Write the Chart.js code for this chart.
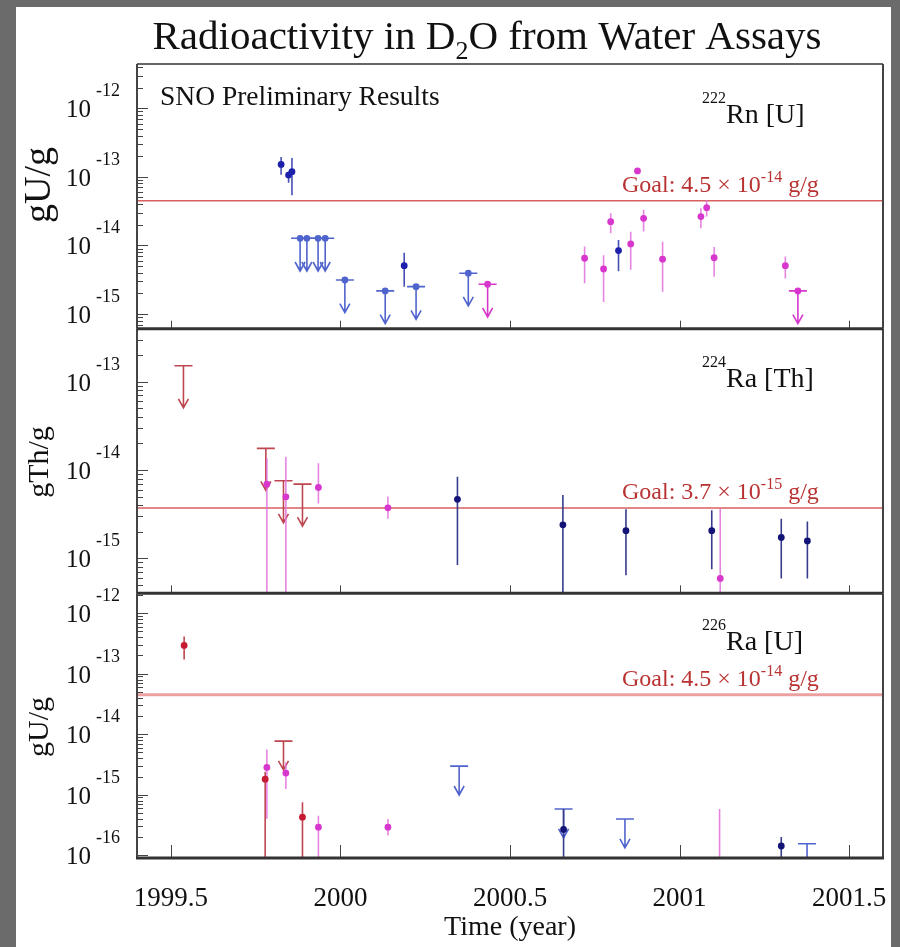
<!DOCTYPE html>
<html>
<head>
<meta charset="utf-8">
<title>Radioactivity in D2O from Water Assays</title>
<script src="https://cdn.jsdelivr.net/npm/chart.js@4/dist/chart.umd.min.js"></script>
<style>
  html, body { margin: 0; padding: 0; background: #6b6b6b; }
  canvas { display: block; }
</style>
</head>
<body>
<canvas id="assays" width="900" height="947"></canvas>
<script>
// assay results: [year, value, low, high] in g/g, limits: [year, upper limit]
const rnBluePoints = [
  [1999.825, 1.52e-13, 1.07e-13, 1.95e-13],
  [1999.847, 1.06e-13, 8.2e-14, 1.2e-13],
  [1999.857, 1.19e-13, 5.4e-14, 1.88e-13],
  [2000.188, 5.07e-15, 2.5e-15, 7.8e-15],
  [2000.820, 8.4e-15, 4.2e-15, 1.2e-14]
];
const rnBlueLimits = [
  [1999.881, 1.27e-14], [1999.901, 1.27e-14], [1999.934, 1.27e-14], [1999.955, 1.27e-14],
  [2000.013, 3.13e-15], [2000.132, 2.17e-15], [2000.223, 2.5e-15], [2000.377, 3.93e-15]
];
const rnPinkPoints = [
  [2000.720, 6.5e-15, 2.8e-15, 9.6e-15],
  [2000.776, 4.53e-15, 1.5e-15, 7.2e-15],
  [2000.797, 2.22e-14, 1.5e-14, 2.95e-14],
  [2000.856, 1.05e-14, 4.4e-15, 1.58e-14],
  [2000.876, 1.22e-13, 1.1e-13, 1.35e-13],
  [2000.894, 2.48e-14, 1.6e-14, 3.3e-14],
  [2000.950, 6.3e-15, 2.1e-15, 1.13e-14],
  [2001.063, 2.63e-14, 1.78e-14, 3.47e-14],
  [2001.080, 3.55e-14, 2.63e-14, 4.6e-14],
  [2001.102, 6.6e-15, 3.5e-15, 9.5e-15],
  [2001.312, 5.07e-15, 3.3e-15, 6.9e-15]
];
const rnPinkLimits = [[2000.434, 2.71e-15], [2001.349, 2.17e-15]];

const ra224RedLimits = [[1999.537, 1.52e-13], [1999.780, 1.76e-14], [1999.832, 7.55e-15], [1999.888, 6.92e-15]];
const ra224PinkPoints = [
  [1999.783, 6.9e-15, 1e-16, 1.36e-14],
  [1999.839, 4.97e-15, 1e-16, 1.41e-14],
  [1999.935, 6.35e-15, 4.18e-15, 1.19e-14],
  [2000.140, 3.73e-15, 2.8e-15, 5.0e-15],
  [2001.120, 5.9e-16, 1e-16, 3.67e-15]
];
const ra224BluePoints = [
  [2000.345, 4.65e-15, 8.4e-16, 8.4e-15],
  [2000.656, 2.39e-15, 1e-16, 5.2e-15],
  [2000.842, 2.05e-15, 6.4e-16, 3.6e-15],
  [2001.095, 2.05e-15, 7.5e-16, 3.5e-15],
  [2001.300, 1.72e-15, 5.9e-16, 2.8e-15],
  [2001.377, 1.57e-15, 5.9e-16, 2.6e-15]
];

const ra226RedPoints = [
  [1999.539, 2.93e-13, 1.71e-13, 4.12e-13],
  [1999.778, 1.81e-15, 5e-17, 2.4e-15],
  [1999.888, 4.25e-16, 5e-17, 7.5e-16]
];
const ra226RedLimits = [[1999.832, 7.7e-15]];
const ra226PinkPoints = [
  [1999.783, 2.83e-15, 4.0e-16, 5.6e-15],
  [1999.839, 2.28e-15, 1.24e-15, 3.41e-15],
  [1999.935, 2.91e-16, 5e-17, 4.5e-16],
  [2000.140, 2.91e-16, 2.12e-16, 3.98e-16],
  [2001.118, 6e-17, 5e-17, 5.8e-16]
];
const ra226BluePoints = [
  [2000.658, 2.66e-16, 5e-17, 5.82e-16],
  [2001.300, 1.42e-16, 5e-17, 2.0e-16]
];
const ra226BlueLimits = [[2000.350, 2.97e-15], [2000.658, 5.82e-16], [2000.839, 3.98e-16], [2001.376, 1.55e-16]];

const goalRn = 4.5e-14;
const goalRa224 = 3.7e-15;
const goalRa226 = 4.5e-14;
const yearTicks = [1999.5, 2000, 2000.5, 2001, 2001.5];

const SERIF = '"Liberation Serif", "Times New Roman", serif';
const BLUE = 'rgb(28,32,170)', BLUE_BAR = 'rgb(70,80,180)', BLUE_ARROW = 'rgb(80,100,205)';
const NAVY = 'rgb(20,20,120)', NAVY_BAR = 'rgb(55,60,140)';
const PINK = 'rgb(215,55,205)', PINK_BAR = 'rgba(225,110,220,0.85)';
const RED = 'rgb(200,25,50)', RED_BAR = 'rgb(190,70,80)';

function points(rows, axis, color, bar) {
  return {
    kind: 'points', barColor: bar, yAxisID: axis,
    data: rows.map(r => ({ x: r[0], y: r[1], lo: r[2], hi: r[3] })),
    backgroundColor: color, borderColor: color, borderWidth: 0,
    pointRadius: 3.4, pointHoverRadius: 3.4
  };
}

function limits(rows, axis, color, withDot) {
  return {
    kind: 'limits', barColor: color, yAxisID: axis,
    data: rows.map(r => ({ x: r[0], y: r[1] })),
    backgroundColor: color, borderColor: color, borderWidth: 0,
    pointRadius: withDot ? 3.4 : 0, pointHoverRadius: 0
  };
}

const panels = [
  { axis: 'yRn', goal: goalRn, title: 'gU/g', titleSize: 38, titleY: 185, iso: '222', name: 'Rn [U]', tickLen: 8 },
  { axis: 'yRa224', goal: goalRa224, title: 'gTh/g', titleSize: 30, titleY: 462, iso: '224', name: 'Ra [Th]', tickLen: 8 },
  { axis: 'yRa226', goal: goalRa226, title: 'gU/g', titleSize: 30, titleY: 727, iso: '226', name: 'Ra [U]', tickLen: 13 }
];

function textRuns(ctx, x, y, runs, align) {
  let w = 0;
  runs.forEach(r => { ctx.font = r[1] + 'px ' + SERIF; w += ctx.measureText(r[0]).width; });
  let cx = align === 'center' ? x - w / 2 : align === 'right' ? x - w : x;
  ctx.textAlign = 'left';
  ctx.textBaseline = 'alphabetic';
  runs.forEach(r => {
    ctx.font = r[1] + 'px ' + SERIF;
    ctx.fillText(r[0], cx, y + (r[2] || 0));
    cx += ctx.measureText(r[0]).width;
  });
}

// error bars, upper-limit arrows and goal lines, clipped to each panel
const marksPlugin = {
  id: 'marks',
  beforeDatasetsDraw(chart) {
    const ctx = chart.ctx, area = chart.chartArea, xs = chart.scales.x;
    panels.forEach(p => {
      const ys = chart.scales[p.axis];
      ctx.save();
      ctx.beginPath();
      ctx.rect(area.left, ys.top, area.right - area.left, ys.bottom - ys.top);
      ctx.clip();
      const gy = ys.getPixelForValue(p.goal);
      ctx.strokeStyle = p.axis === 'yRa226' ? 'rgb(236,160,160)' : 'rgb(215,95,95)';
      ctx.lineWidth = p.axis === 'yRa226' ? 3 : 1.5;
      ctx.beginPath();
      ctx.moveTo(area.left, gy);
      ctx.lineTo(area.right, gy);
      ctx.stroke();

      chart.data.datasets.forEach(ds => {
        if (ds.yAxisID !== p.axis) return;
        ctx.strokeStyle = ds.barColor;
        ctx.lineWidth = 1.6;
        ds.data.forEach(d => {
          const px = xs.getPixelForValue(d.x);
          if (ds.kind === 'points') {
            ctx.beginPath();
            ctx.moveTo(px, ys.getPixelForValue(d.lo));
            ctx.lineTo(px, ys.getPixelForValue(d.hi));
            ctx.stroke();
          } else {
            const top = ys.getPixelForValue(d.y);
            const tip = ys.getPixelForValue(d.y / 3);
            ctx.beginPath();
            ctx.moveTo(px - 9, top);
            ctx.lineTo(px + 9, top);
            ctx.moveTo(px, top);
            ctx.lineTo(px, tip);
            ctx.moveTo(px - 5, tip - 9);
            ctx.lineTo(px, tip);
            ctx.lineTo(px + 5, tip - 9);
            ctx.stroke();
          }
        });
      });
      ctx.restore();
    });
  }
};

// page background, frames, ticks and all text
const framePlugin = {
  id: 'frame',
  beforeDraw(chart) {
    const ctx = chart.ctx;
    ctx.save();
    ctx.fillStyle = '#6b6b6b';
    ctx.fillRect(0, 0, chart.width, chart.height);
    ctx.fillStyle = '#ffffff';
    ctx.fillRect(16, 7, 875, 940);
    ctx.restore();
  },
  afterDatasetsDraw(chart) {
    const ctx = chart.ctx, area = chart.chartArea, xs = chart.scales.x;
    ctx.save();
    ctx.fillStyle = '#111';
    textRuns(ctx, 487, 49, [['Radioactivity in D', 41], ['2', 26, 10], ['O from Water Assays', 41]], 'center');

    panels.forEach((p, i) => {
      const ys = chart.scales[p.axis];
      // y ticks, inside the frame
      ctx.strokeStyle = '#444';
      ctx.lineWidth = 1;
      const e0 = Math.floor(Math.log10(ys.min)), e1 = Math.ceil(Math.log10(ys.max));
      for (let e = e0; e <= e1; e++) {
        for (let m = 1; m <= 9; m++) {
          const v = m * Math.pow(10, e);
          if (v < ys.min || v > ys.max) continue;
          const y = Math.round(ys.getPixelForValue(v)) + 0.5;
          ctx.beginPath();
          ctx.moveTo(area.left, y);
          ctx.lineTo(area.left + (m === 1 ? 11 : 6), y);
          ctx.stroke();
          if (m === 1) {
            ctx.fillStyle = '#111';
            textRuns(ctx, 91, y + 8, [['10', 25]], 'right');
            textRuns(ctx, 96, y - 13, [['-' + String(-e), 18]], 'left');
          }
        }
      }
      // x ticks along the bottom of each panel
      yearTicks.forEach(t => {
        const x = Math.round(xs.getPixelForValue(t)) + 0.5;
        ctx.beginPath();
        ctx.moveTo(x, ys.bottom);
        ctx.lineTo(x, ys.bottom - p.tickLen);
        ctx.stroke();
      });

      // panel frame
      ctx.strokeStyle = '#444';
      ctx.lineWidth = 2;
      ctx.beginPath();
      ctx.moveTo(area.left, ys.top);
      ctx.lineTo(area.left, ys.bottom);
      ctx.moveTo(area.right, ys.top);
      ctx.lineTo(area.right, ys.bottom);
      ctx.stroke();
      ctx.strokeStyle = '#333';
      ctx.lineWidth = i === 0 ? 1.5 : 3;
      ctx.beginPath();
      ctx.moveTo(area.left, ys.top);
      ctx.lineTo(area.right, ys.top);
      ctx.stroke();

      // axis title
      ctx.fillStyle = '#111';
      ctx.save();
      ctx.translate(40, p.titleY);
      ctx.rotate(-Math.PI / 2);
      ctx.font = p.titleSize + 'px ' + SERIF;
      ctx.textAlign = 'center';
      ctx.textBaseline = 'middle';
      ctx.fillText(p.title, 0, 0);
      ctx.restore();

      // isotope label and goal text
      const labelY = ys.top + [59, 58, 57][i];
      textRuns(ctx, 702, labelY, [[p.iso, 16, -20], [p.name, 28]], 'left');
      const gy = ys.getPixelForValue(p.goal);
      const ex = Math.floor(Math.log10(p.goal));
      const mant = (p.goal / Math.pow(10, ex)).toFixed(1);
      ctx.fillStyle = 'rgb(185,50,50)';
      textRuns(ctx, 622, gy - 9, [['Goal: ' + mant + ' \u00d7 10', 24], [String(ex), 16, -10], [' g/g', 24]], 'left');
    });

    ctx.strokeStyle = '#333';
    ctx.lineWidth = 3;
    ctx.beginPath();
    ctx.moveTo(area.left - 1, area.bottom);
    ctx.lineTo(area.right + 1, area.bottom);
    ctx.stroke();

    ctx.fillStyle = '#111';
    textRuns(ctx, 160, 105, [['SNO Preliminary Results', 27.5]], 'left');
    yearTicks.forEach(t => {
      textRuns(ctx, xs.getPixelForValue(t), 906, [[String(t), 27]], 'center');
    });
    textRuns(ctx, 510, 935, [['Time (year)', 28]], 'center');
    ctx.restore();
  }
};

const logAxis = (min, max, weight) => ({
  type: 'logarithmic', min: min, max: max, display: false,
  position: 'left', stack: 'panels', stackWeight: 1, weight: weight
});

new Chart(document.getElementById('assays').getContext('2d'), {
  type: 'scatter',
  data: {
    datasets: [
      limits(rnBlueLimits, 'yRn', BLUE_ARROW, true),
      limits(rnPinkLimits, 'yRn', PINK, true),
      points(rnBluePoints, 'yRn', BLUE, BLUE_BAR),
      points(rnPinkPoints, 'yRn', PINK, PINK_BAR),
      limits(ra224RedLimits, 'yRa224', RED_BAR, false),
      points(ra224PinkPoints, 'yRa224', PINK, PINK_BAR),
      points(ra224BluePoints, 'yRa224', NAVY, NAVY_BAR),
      limits(ra226RedLimits, 'yRa226', RED_BAR, false),
      limits(ra226BlueLimits, 'yRa226', BLUE_ARROW, false),
      points(ra226PinkPoints, 'yRa226', PINK, PINK_BAR),
      points(ra226RedPoints, 'yRa226', RED, RED_BAR),
      points(ra226BluePoints, 'yRa226', NAVY, NAVY_BAR)
    ]
  },
  options: {
    responsive: false,
    animation: false,
    events: [],
    layout: { padding: { left: 137, right: 17, top: 64, bottom: 89 } },
    plugins: { legend: { display: false }, tooltip: { enabled: false } },
    scales: {
      x: { type: 'linear', min: 1999.4, max: 2001.6, display: false },
      yRn: logAxis(6.1e-16, 4.43e-12, 3),
      yRa224: logAxis(4e-16, 4e-13, 2),
      yRa226: logAxis(9.45e-17, 2.13e-12, 1)
    }
  },
  plugins: [marksPlugin, framePlugin]
});
</script>
</body>
</html>
